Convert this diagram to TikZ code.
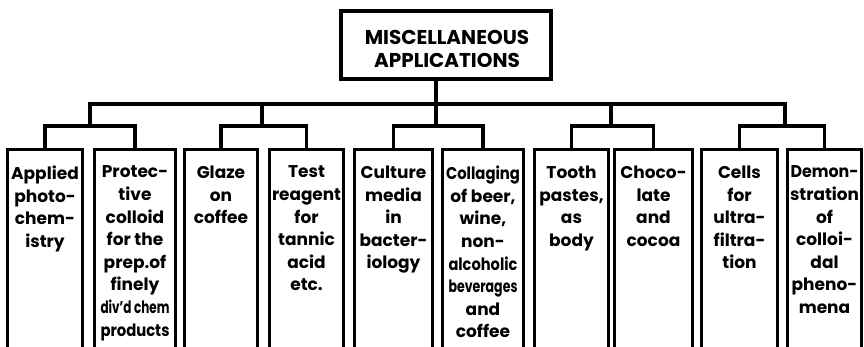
\documentclass[tikz,border=0pt]{standalone}
\usepackage{fontspec}
\setmainfont{Poppins}
\usepackage{graphicx}
\usetikzlibrary{fit}
\newlength\lwmax
\setlength\lwmax{69pt}
\newsavebox\fitlinebox
\newcommand\fl[1]{\sbox\fitlinebox{#1}\ifdim\wd\fitlinebox>\lwmax\resizebox{\lwmax}{\height}{\usebox\fitlinebox}\else\usebox\fitlinebox\fi}
\begin{document}
\begin{tikzpicture}[x=1pt,y=-1pt,
  conn/.style={line width=3.6pt, line join=miter},
  boxline/.style={line width=2.8pt, line join=miter},
  leafbox/.style={inner sep=0pt, draw=none},
  leaftext/.style={anchor=north, inner sep=0pt, align=center,
    font=\fontsize{17}{22.6}\selectfont\bfseries},
  topbox/.style={draw, line width=3.4pt, minimum width=210pt, minimum height=68pt,
    inner sep=0pt},
  toptext/.style={inner sep=0pt, align=center, font=\fontsize{20}{23}\selectfont\bfseries}]
\useasboundingbox (0,0) rectangle (864,347);

% top node
\node[topbox] (top) at (446,45) {};
\node[toptext] (toplabel) at (447,48.5) {MISCELLANEOUS\\APPLICATIONS};

% leaf boxes
\node[leafbox, fit={(8,150) (82,347)}] (b1) {};
\node[leafbox, fit={(95,150) (175,347)}] (b2) {};
\node[leafbox, fit={(185,150) (257,347)}] (b3) {};
\node[leafbox, fit={(270,150) (343,347)}] (b4) {};
\node[leafbox, fit={(355,150) (432,347)}] (b5) {};
\node[leafbox, fit={(443,150) (523,347)}] (b6) {};
\node[leafbox, fit={(535,150) (608,347)}] (b7) {};
\node[leafbox, fit={(615,150) (692,347)}] (b8) {};
\node[leafbox, fit={(702,150) (777,347)}] (b9) {};
\node[leafbox, fit={(788,150) (861,347)}] (b10) {};

\foreach \b in {b1,b2,b3,b4,b5,b6,b7,b8,b9,b10}{
  \draw[boxline] (\b.south west) -- (\b.north west) -- (\b.north east) -- (\b.south east);
}

% texts
\node[leaftext] (t1) at ([yshift=-16pt]b1.north) {\fl{Applied}\\\fl{photo-}\\\fl{chem-}\\\fl{istry}};
\node[leaftext] (t2) at ([yshift=-16pt]b2.north) {\setlength\lwmax{74pt}\fl{Protec-}\\\fl{tive}\\\fl{colloid}\\\fl{for the}\\\fl{prep.of}\\\fl{finely}\\\fl{div'd chem}\\\fl{products}};
\node[leaftext] (t3) at ([yshift=-16pt]b3.north) {\fl{Glaze}\\\fl{on}\\\fl{coffee}};
\node[leaftext] (t4) at ([yshift=-16pt]b4.north) {\fl{Test}\\\fl{reagent}\\\fl{for}\\\fl{tannic}\\\fl{acid}\\\fl{etc.}};
\node[leaftext] (t5) at ([yshift=-16pt]b5.north) {\setlength\lwmax{71pt}\fl{Culture}\\\fl{media}\\\fl{in}\\\fl{bacter-}\\\fl{iology}};
\node[leaftext] (t6) at ([yshift=-16pt]b6.north) {\setlength\lwmax{74pt}\fl{Collaging}\\\fl{of beer,}\\\fl{wine,}\\\fl{non-}\\\fl{alcoholic}\\\fl{beverages}\\\fl{and}\\\fl{coffee}};
\node[leaftext] (t7) at ([yshift=-16pt]b7.north) {\fl{Tooth}\\\fl{pastes,}\\\fl{as}\\\fl{body}};
\node[leaftext] (t8) at ([yshift=-16pt]b8.north) {\setlength\lwmax{71pt}\fl{Choco-}\\\fl{late}\\\fl{and}\\\fl{cocoa}};
\node[leaftext] (t9) at ([yshift=-16pt]b9.north) {\fl{Cells}\\\fl{for}\\\fl{ultra-}\\\fl{filtra-}\\\fl{tion}};
\node[leaftext] (t10) at ([yshift=-16pt]b10.north) {\setlength\lwmax{68pt}\fl{Demon-}\\\fl{stration}\\\fl{of}\\\fl{colloi-}\\\fl{dal}\\\fl{pheno-}\\\fl{mena}};

% junction coordinates
\coordinate (g1) at (90,126);
\coordinate (g2) at (262,126);
\coordinate (g3) at (436,126);
\coordinate (g4) at (611,126);
\coordinate (g5) at (785,126);
\coordinate (m1) at (90,104);
\coordinate (m2) at (262,104);
\coordinate (m4) at (611,104);
\coordinate (m5) at (785,104);

% group connectors
\draw[conn] (b1.north) |- (g1) -| (b2.north);
\draw[conn] (b3.north) |- (g2) -| (b4.north);
\draw[conn] (b5.north) |- (g3) -| (b6.north);
\draw[conn] (b7.north) |- (g4) -| (b8.north);
\draw[conn] (b9.north) |- (g5) -| (b10.north);

% main bar
\draw[conn] (g1) -- (m1) -- (m5) -- (g5);
\draw[conn] (m2) -- (g2);
\draw[conn] (m4) -- (g4);
\draw[conn] (g3 |- top.south) -- (g3);
\end{tikzpicture}
\end{document}
